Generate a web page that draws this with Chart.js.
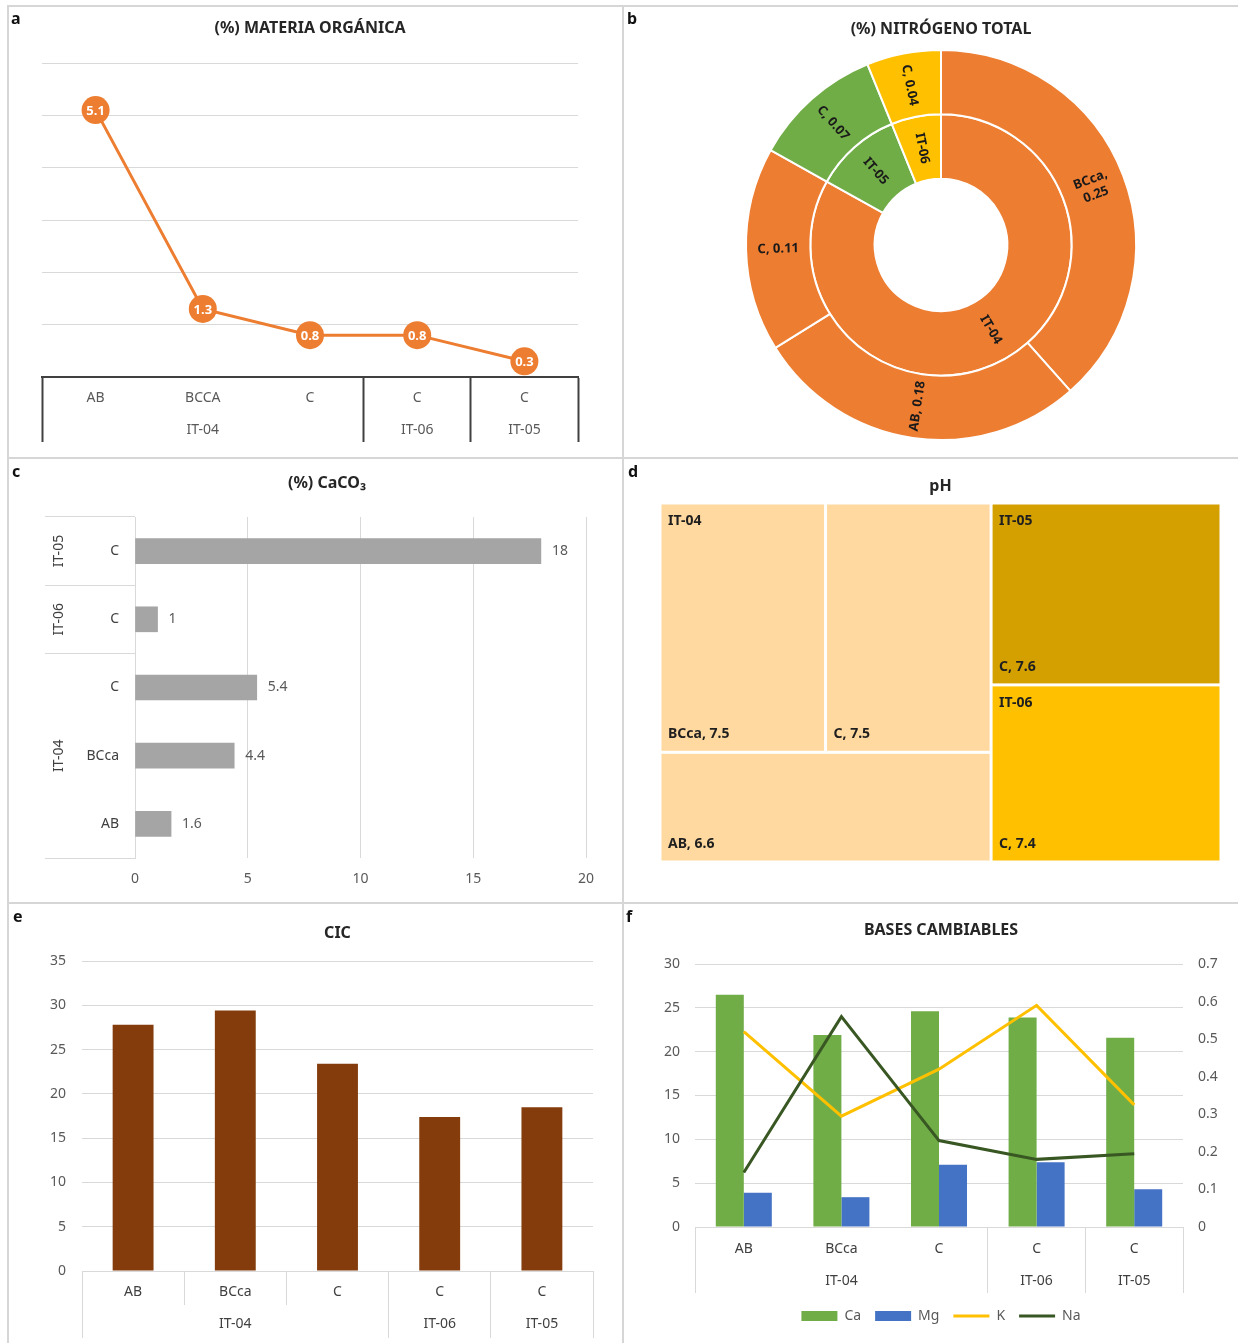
<!DOCTYPE html>
<html>
<head>
<meta charset="utf-8">
<script src="https://cdn.jsdelivr.net/npm/chart.js@4.4.1/dist/chart.umd.min.js"></script>
<style>
  html, body { margin: 0; padding: 0; background: #fff; }
  body { width: 1238px; height: 1343px; position: relative; overflow: hidden; font-family: 'Noto Sans', sans-serif; }
  canvas { position: absolute; }
  .rule { position: absolute; background: #d6d6d6; }
  .tag { position: absolute; font-weight: bold; font-size: 16px; line-height: 16px; color: #111; }
</style>
</head>
<body>
<canvas id="organic" width="615" height="452" style="left:8px;top:6px"></canvas>
<canvas id="nitrogen" width="615" height="452" style="left:623px;top:6px"></canvas>
<canvas id="carbonate" width="615" height="445" style="left:8px;top:458px"></canvas>
<canvas id="ph" width="615" height="445" style="left:623px;top:458px"></canvas>
<canvas id="cic" width="615" height="440" style="left:8px;top:903px"></canvas>
<canvas id="bases" width="615" height="440" style="left:623px;top:903px"></canvas>

<div class="rule" style="left:8px;top:5px;width:1230px;height:2px"></div>
<div class="rule" style="left:7px;top:5px;width:2px;height:1338px"></div>
<div class="rule" style="left:622px;top:5px;width:2px;height:1338px"></div>
<div class="rule" style="left:8px;top:457px;width:1230px;height:2px"></div>
<div class="rule" style="left:8px;top:902px;width:1230px;height:2px"></div>

<div class="tag" style="left:11px;top:10px">a</div>
<div class="tag" style="left:627px;top:10px">b</div>
<div class="tag" style="left:12px;top:463px">c</div>
<div class="tag" style="left:628px;top:463px">d</div>
<div class="tag" style="left:13px;top:908px">e</div>
<div class="tag" style="left:626px;top:908px">f</div>

<script>
// samples shared by panels a, e and f
const samples = ['AB', 'BCca', 'C', 'C', 'C'];
const sites = ['IT-04', 'IT-04', 'IT-04', 'IT-06', 'IT-05'];
const organicMatter = [5.1, 1.3, 0.8, 0.8, 0.3];
const cic = [27.8, 29.4, 23.4, 17.4, 18.5];
const calcium = [26.5, 21.9, 24.6, 23.9, 21.6];
const magnesium = [3.9, 3.4, 7.1, 7.4, 4.3];
const potassium = [0.52, 0.295, 0.42, 0.59, 0.325];
const sodium = [0.145, 0.56, 0.23, 0.18, 0.195];

// total nitrogen (outer ring order, clockwise from the top)
const nitrogenSamples = ['BCca', 'AB', 'C', 'C', 'C'];
const nitrogenSites = ['IT-04', 'IT-04', 'IT-04', 'IT-05', 'IT-06'];
const nitrogen = [0.25, 0.18, 0.11, 0.07, 0.04];

// CaCO3, top to bottom
const carbonateSamples = ['C', 'C', 'C', 'BCca', 'AB'];
const carbonateSites = ['IT-05', 'IT-06', 'IT-04', 'IT-04', 'IT-04'];
const carbonate = [18, 1, 5.4, 4.4, 1.6];

// pH
const phSamples = ['BCca', 'C', 'AB', 'C', 'C'];
const phSites = ['IT-04', 'IT-04', 'IT-04', 'IT-05', 'IT-06'];
const ph = [7.5, 7.5, 6.6, 7.6, 7.4];

const siteColors = {'IT-04': '#ed7d31', 'IT-05': '#70ad47', 'IT-06': '#ffc000'};
const phColors = {'IT-04': '#ffd9a0', 'IT-05': '#d4a000', 'IT-06': '#ffc000'};

Chart.defaults.font.family = "'Noto Sans', 'DejaVu Sans', sans-serif";
Chart.defaults.font.size = 14;
Chart.defaults.color = '#595959';
Chart.defaults.animation = false;
Chart.defaults.responsive = false;
Chart.defaults.events = [];
Chart.defaults.plugins.legend.display = false;
Chart.defaults.plugins.tooltip.enabled = false;

function title(text, top, bottom) {
  return {display: true, text, color: '#262626', font: {size: 16, weight: 'bold', lineHeight: 1.25}, padding: {top, bottom}};
}

// consecutive runs of the same site
function runs(groups) {
  const out = [];
  groups.forEach((g, i) => {
    if (i && groups[i - 1] === g) out[out.length - 1].end = i;
    else out.push({name: g, start: i, end: i});
  });
  return out;
}

// two-line category labels: sample on top, site under the middle of its run
function axisLabels(names, groups) {
  const r = runs(groups);
  return names.map((name, i) => {
    const run = r.find(g => i >= g.start && i <= g.end);
    return [name, i === Math.floor((run.start + run.end) / 2) ? run.name : ''];
  });
}

// grid tick colour that only shows the boundaries between sites
function edgeColor(groups, color) {
  const edges = [0, ...runs(groups).map(g => g.end + 1)];
  return c => edges.includes(c.index === undefined ? groups.length : c.index) ? color : 'rgba(0,0,0,0)';
}

// ---- a: organic matter ----
const pointValues = {
  id: 'pointValues',
  afterDatasetsDraw(chart) {
    const ctx = chart.ctx;
    ctx.save();
    ctx.fillStyle = '#fff';
    ctx.font = "bold 13px 'Noto Sans'";
    ctx.textAlign = 'center';
    ctx.textBaseline = 'middle';
    chart.getDatasetMeta(0).data.forEach((pt, i) => {
      ctx.fillText(String(chart.data.datasets[0].data[i]), pt.x, pt.y + 1);
    });
    ctx.restore();
  }
};

new Chart(document.getElementById('organic'), {
  type: 'line',
  data: {
    labels: axisLabels(samples.map(s => s.toUpperCase()), sites),
    datasets: [{
      data: organicMatter,
      borderColor: siteColors['IT-04'],
      backgroundColor: siteColors['IT-04'],
      borderWidth: 3,
      pointRadius: 14,
      pointBorderWidth: 0,
      tension: 0
    }]
  },
  options: {
    layout: {padding: {left: 34, right: 45}},
    plugins: {title: title('(%) MATERIA ORGÁNICA', 12, 25)},
    scales: {
      x: {
        offset: true,
        grid: {offset: true, drawOnChartArea: false, tickLength: 65, tickWidth: 2, tickColor: edgeColor(sites, '#404040')},
        border: {color: '#404040', width: 2},
        ticks: {padding: -60, color: '#595959', autoSkip: false, maxRotation: 0, font: {size: 14, lineHeight: '32px'}},
        afterFit: s => { s.height = 81; }
      },
      y: {
        min: 0, max: 6,
        ticks: {display: false, stepSize: 1},
        grid: {color: '#d9d9d9', drawTicks: false},
        border: {display: false},
        afterFit: s => { s.width = 0; }
      }
    }
  },
  plugins: [pointValues]
});

// ---- b: total nitrogen ----
const ringSites = [...new Set(nitrogenSites)];
const ringTotals = ringSites.map(s => nitrogen.reduce((t, v, i) => nitrogenSites[i] === s ? t + v : t, 0));

const ringLabels = {
  id: 'ringLabels',
  afterDatasetsDraw(chart) {
    const ctx = chart.ctx;
    ctx.save();
    ctx.fillStyle = '#1a1a1a';
    ctx.font = "bold 13px 'Noto Sans'";
    ctx.textAlign = 'center';
    ctx.textBaseline = 'middle';
    chart.data.datasets.forEach((ds, di) => {
      chart.getDatasetMeta(di).data.forEach((arc, i) => {
        const p = arc.getProps(['x', 'y', 'startAngle', 'endAngle', 'innerRadius', 'outerRadius']);
        const a = (p.startAngle + p.endAngle) / 2;
        const r = (p.innerRadius + p.outerRadius) / 2;
        let rot = ((a % (2 * Math.PI)) + 2 * Math.PI) % (2 * Math.PI);
        if (rot > Math.PI / 2 && rot < 3 * Math.PI / 2) rot -= Math.PI;
        const text = ds.sliceLabels[i];
        const lines = ctx.measureText(text).width > 62 ? text.split(' ') : [text];
        ctx.save();
        ctx.translate(p.x + r * Math.cos(a), p.y + r * Math.sin(a));
        ctx.rotate(rot);
        lines.forEach((ln, k) => ctx.fillText(ln, 0, (k - (lines.length - 1) / 2) * 16));
        ctx.restore();
      });
    });
    ctx.restore();
  }
};

new Chart(document.getElementById('nitrogen'), {
  type: 'doughnut',
  data: {
    labels: nitrogenSamples,
    datasets: [{
      data: nitrogen,
      sliceLabels: nitrogenSamples.map((s, i) => `${s}, ${nitrogen[i]}`),
      backgroundColor: nitrogenSites.map(s => siteColors[s]),
      borderColor: '#fff',
      borderWidth: 2
    }, {
      data: ringTotals,
      sliceLabels: ringSites,
      backgroundColor: ringSites.map(s => siteColors[s]),
      borderColor: '#fff',
      borderWidth: 2
    }]
  },
  options: {
    radius: 195,
    cutout: '34%',
    layout: {padding: {left: 118, right: 97, bottom: 18}},
    plugins: {title: title('(%) NITRÓGENO TOTAL', 13, 11)}
  },
  plugins: [ringLabels]
});

// ---- c: CaCO3 ----
const barValues = {
  id: 'barValues',
  afterDatasetsDraw(chart) {
    const ctx = chart.ctx;
    ctx.save();
    ctx.fillStyle = '#595959';
    ctx.font = "14px 'Noto Sans'";
    ctx.textAlign = 'left';
    ctx.textBaseline = 'middle';
    chart.getDatasetMeta(0).data.forEach((bar, i) => {
      ctx.fillText(String(chart.data.datasets[0].data[i]), bar.x + 11, bar.y);
    });
    ctx.restore();
  }
};

const siteNames = {
  id: 'siteNames',
  afterDraw(chart) {
    const ctx = chart.ctx, y = chart.scales.y;
    const half = (y.getPixelForValue(1) - y.getPixelForValue(0)) / 2;
    ctx.save();
    ctx.fillStyle = '#404040';
    ctx.font = "14px 'Noto Sans'";
    ctx.textAlign = 'center';
    ctx.textBaseline = 'middle';
    runs(carbonateSites).forEach(g => {
      const mid = (y.getPixelForValue(g.start) - half + y.getPixelForValue(g.end) + half) / 2;
      ctx.save();
      ctx.translate(51, mid);
      ctx.rotate(-Math.PI / 2);
      ctx.fillText(g.name, 0, 0);
      ctx.restore();
    });
    ctx.restore();
  }
};

new Chart(document.getElementById('carbonate'), {
  type: 'bar',
  data: {
    labels: carbonateSamples,
    datasets: [{data: carbonate, backgroundColor: '#a5a5a5', barThickness: 25}]
  },
  options: {
    indexAxis: 'y',
    layout: {padding: {left: 60, right: 37}},
    plugins: {title: title('(%) CaCO₃', 15, 24)},
    scales: {
      x: {
        min: 0, max: 20,
        ticks: {stepSize: 5, padding: 13, color: '#595959'},
        grid: {color: '#d9d9d9', drawTicks: false},
        border: {display: false},
        afterFit: s => { s.height = 45; }
      },
      y: {
        grid: {offset: true, drawOnChartArea: false, tickLength: 90, tickColor: edgeColor(carbonateSites, '#d9d9d9')},
        border: {color: '#d9d9d9'},
        ticks: {padding: -74, color: '#404040', autoSkip: false},
        afterFit: s => { s.width = 67; }
      }
    }
  },
  plugins: [barValues, siteNames]
});

// ---- d: pH treemap ----
function treemapCells() {
  const groups = [...new Set(phSites)];
  const total = ph.reduce((a, b) => a + b, 0);
  const groupTotal = g => ph.reduce((t, v, i) => phSites[i] === g ? t + v : t, 0);
  const cells = [];
  // first site fills the left column: two samples side by side, the third below
  const first = ph.map((v, i) => i).filter(i => phSites[i] === groups[0]);
  const w0 = groupTotal(groups[0]) / total;
  const topRow = first.slice(0, 2);
  const rowTotal = topRow.reduce((t, i) => t + ph[i], 0);
  const h = rowTotal / groupTotal(groups[0]);
  let x = 0;
  topRow.forEach(i => {
    const w = w0 * ph[i] / rowTotal;
    cells.push({i, x0: x, x1: x + w, y0: 0, y1: h});
    x += w;
  });
  first.slice(2).forEach(i => cells.push({i, x0: 0, x1: w0, y0: h, y1: 1}));
  // remaining sites are stacked in the right column
  const rest = total - groupTotal(groups[0]);
  let y = 0;
  groups.slice(1).forEach(g => {
    phSites.forEach((s, i) => {
      if (s !== g) return;
      const hh = ph[i] / rest;
      cells.push({i, x0: w0, x1: 1, y0: y, y1: y + hh});
      y += hh;
    });
  });
  return cells;
}
const phCells = treemapCells();

const treemap = {
  id: 'treemap',
  beforeDatasetsDraw(chart) {
    const {ctx, scales: {x, y}} = chart;
    const seen = new Set();
    ctx.save();
    phCells.forEach(c => {
      const l = x.getPixelForValue(c.x0), r = x.getPixelForValue(c.x1);
      const t = y.getPixelForValue(c.y0), b = y.getPixelForValue(c.y1);
      const site = phSites[c.i];
      ctx.fillStyle = phColors[site];
      ctx.fillRect(l + 1.5, t + 1.5, r - l - 3, b - t - 3);
      ctx.fillStyle = '#1f1f1f';
      ctx.font = "bold 14px 'Noto Sans'";
      ctx.textAlign = 'left';
      ctx.textBaseline = 'middle';
      if (!seen.has(site)) {
        seen.add(site);
        ctx.fillText(site, l + 8, t + 18);
      }
      ctx.fillText(`${phSamples[c.i]}, ${ph[c.i]}`, l + 8, b - 18);
    });
    ctx.restore();
  }
};

new Chart(document.getElementById('ph'), {
  type: 'scatter',
  data: {datasets: [{data: []}]},
  options: {
    layout: {padding: {left: 37, right: 17, bottom: 41}},
    plugins: {title: title('pH', 18, 7)},
    scales: {
      x: {min: 0, max: 1, display: false},
      y: {min: 0, max: 1, reverse: true, display: false}
    }
  },
  plugins: [treemap]
});

// ---- e: CIC ----
const innerSeparators = {
  id: 'innerSeparators',
  afterDraw(chart) {
    const ctx = chart.ctx, x = chart.scales.x, bottom = chart.chartArea.bottom;
    ctx.save();
    ctx.strokeStyle = '#d9d9d9';
    ctx.lineWidth = 1;
    sites.forEach((s, i) => {
      if (i === 0 || sites[i - 1] !== s) return;
      const px = Math.round((x.getPixelForValue(i - 1) + x.getPixelForValue(i)) / 2) + 0.5;
      ctx.beginPath();
      ctx.moveTo(px, bottom);
      ctx.lineTo(px, bottom + 34);
      ctx.stroke();
    });
    ctx.restore();
  }
};

new Chart(document.getElementById('cic'), {
  type: 'bar',
  data: {
    labels: axisLabels(samples, sites),
    datasets: [{data: cic, backgroundColor: '#843c0c', categoryPercentage: 0.4, barPercentage: 1}]
  },
  options: {
    layout: {padding: {right: 30}},
    plugins: {title: {...title('CIC', 20, 18), fullSize: false}},
    scales: {
      x: {
        grid: {offset: true, drawOnChartArea: false, tickLength: 67, tickColor: edgeColor(sites, '#d9d9d9')},
        border: {color: '#d9d9d9'},
        ticks: {padding: -62, color: '#404040', autoSkip: false, maxRotation: 0, font: {size: 14, lineHeight: '32px'}},
        afterFit: s => { s.height = 72; }
      },
      y: {
        min: 0, max: 35,
        ticks: {stepSize: 5, padding: 16, color: '#595959'},
        grid: {color: '#d9d9d9', drawTicks: false},
        border: {display: false},
        afterFit: s => { s.width = 74; }
      }
    }
  },
  plugins: [innerSeparators]
});

// ---- f: exchangeable bases ----
new Chart(document.getElementById('bases'), {
  type: 'bar',
  data: {
    labels: axisLabels(samples, sites),
    datasets: [
      {label: 'Ca', data: calcium, backgroundColor: '#70ad47', pointStyle: 'rect', yAxisID: 'y', categoryPercentage: 0.574, barPercentage: 1, order: 2},
      {label: 'Mg', data: magnesium, backgroundColor: '#4472c4', pointStyle: 'rect', yAxisID: 'y', categoryPercentage: 0.574, barPercentage: 1, order: 2},
      {type: 'line', label: 'K', data: potassium, borderColor: '#ffc000', backgroundColor: '#ffc000', borderWidth: 3, pointRadius: 0, pointStyle: 'line', tension: 0, yAxisID: 'y1', order: 1},
      {type: 'line', label: 'Na', data: sodium, borderColor: '#385723', backgroundColor: '#385723', borderWidth: 3, pointRadius: 0, pointStyle: 'line', tension: 0, yAxisID: 'y1', order: 0}
    ]
  },
  options: {
    layout: {padding: {left: 21, bottom: 10}},
    plugins: {
      title: title('BASES CAMBIABLES', 17, 24),
      legend: {
        display: true,
        position: 'bottom',
        labels: {
          usePointStyle: true, pointStyleWidth: 36, boxHeight: 10, padding: 14,
          color: '#595959', font: {size: 14},
          sort: (a, b) => a.datasetIndex - b.datasetIndex
        }
      }
    },
    scales: {
      x: {
        grid: {offset: true, drawOnChartArea: false, tickLength: 66, tickColor: edgeColor(sites, '#d9d9d9')},
        border: {color: '#d9d9d9'},
        ticks: {padding: -60, color: '#404040', autoSkip: false, maxRotation: 0, font: {size: 14, lineHeight: '32px'}},
        afterFit: s => { s.height = 68; }
      },
      y: {
        position: 'left',
        min: 0, max: 30,
        ticks: {stepSize: 5, padding: 15, color: '#595959'},
        grid: {color: '#d9d9d9', drawTicks: false},
        border: {display: false},
        afterFit: s => { s.width = 51; }
      },
      y1: {
        position: 'right',
        min: 0, max: 0.7,
        ticks: {stepSize: 0.1, padding: 15, color: '#595959'},
        grid: {drawOnChartArea: false, drawTicks: false},
        border: {display: false},
        afterFit: s => { s.width = 55; }
      }
    }
  }
});
</script>
</body>
</html>
